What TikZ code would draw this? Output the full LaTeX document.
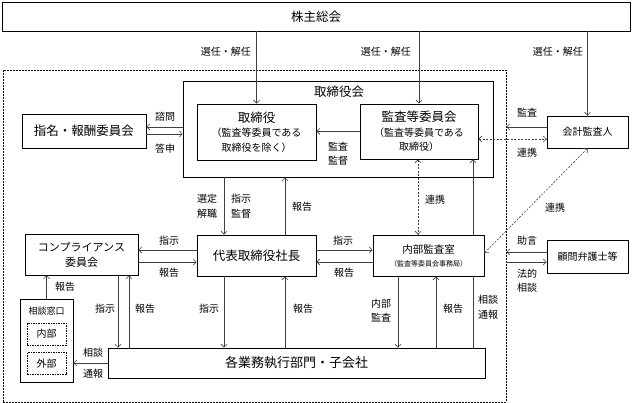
\documentclass[tikz,border=0pt]{standalone}
\usepackage{fontspec}
\newfontfamily\jpfont{Noto Sans CJK JP}
\usetikzlibrary{arrows.meta, positioning}
\newcommand\bigfs{\fontsize{12.5pt}{15pt}\selectfont}
\newcommand\midfs{\fontsize{10pt}{14.5pt}\selectfont}
\newcommand\tinyfs{\fontsize{7pt}{9pt}\selectfont}
\tikzset {
  bigbox/.style = {draw, line width=0.8pt, rectangle, fill=white},
  box/.style = {draw, line width=0.8pt, rectangle, fill=white, align=center, inner sep=2pt},
  smallbox/.style = {draw, line width=0.7pt, dash pattern=on 1.5pt off 1pt, rectangle, fill=white, inner sep=1pt},
  groupbox/.style = {draw, line width=0.7pt, dash pattern=on 2pt off 1pt, rectangle},
  line/.style = {->, line width=0.6pt, color=black!75, >={Straight Barb[length=3pt,width=6pt]}},
  dashedline/.style = {<->, line width=0.6pt, dash pattern=on 2pt off 1.5pt, color=black!75, >={Straight Barb[length=3pt,width=6pt]}},
  lbl/.style = {inner sep=0pt, align=center}
}

\begin{document}
\begin{tikzpicture}[x=1pt, y=-1pt, every node/.style={font=\jpfont\midfs}]
    \useasboundingbox (0,0) rectangle (632,403);

    \node[groupbox, minimum width=503pt, minimum height=332pt] (kaisha) at (254.5,236) {};

    \node[bigbox, minimum width=628pt, minimum height=29pt, font=\jpfont\bigfs] (soukai) at (316,16.5) {株主総会};
    \node[bigbox, minimum width=310pt, minimum height=96pt] (torikai) at (338,129) {};
    \node[lbl, font=\jpfont\bigfs] (torikailbl) at (339,92) {取締役会};
    \node[box, minimum width=119pt, minimum height=56pt] (tori) at (256.5,132) {{\bigfs 取締役}\\（監査等委員である\\取締役を除く）};
    \node[box, minimum width=118pt, minimum height=55pt] (kansa) at (419,131.5) {{\bigfs 監査等委員会}\\（監査等委員である\\取締役）};
    \node[box, minimum width=124pt, minimum height=34pt, font=\jpfont\bigfs] (shimei) at (84,131) {指名・報酬委員会};
    \node[box, minimum width=81pt, minimum height=32pt] (kaikei) at (587.5,132) {会計監査人};
    \node[box, minimum width=113pt, minimum height=41pt, font=\jpfont\fontsize{11pt}{15pt}\selectfont] (comp) at (81.5,254.5) {コンプライアンス\\委員会};
    \node[box, minimum width=119pt, minimum height=41pt, font=\jpfont\bigfs] (daihyo) at (256.5,255.5) {代表取締役社長};
    \node[box, minimum width=111pt, minimum height=41pt, font=\jpfont\fontsize{10.5pt}{13pt}\selectfont] (naibu) at (428.5,255.5) {内部監査室\\{\tinyfs （監査等委員会事務局）}};
    \node[box, minimum width=81pt, minimum height=33pt] (komon) at (587.5,256.5) {顧問弁護士等};
    \node[box, minimum width=377pt, minimum height=30pt, font=\jpfont\fontsize{13pt}{15pt}\selectfont] (gyomu) at (296.5,363) {各業務執行部門・子会社};

    % soudan madoguchi
    \node[box, minimum width=53pt, minimum height=83pt] (madoguchi) at (46.5,340.5) {};
    \node[lbl, font=\jpfont\fontsize{9pt}{11pt}\selectfont, below=8pt of madoguchi.north] (madotitle) {相談窓口};
    \node[smallbox, minimum width=39pt, minimum height=22pt, below=7.5pt of madotitle] (mnaibu) {内部};
    \node[smallbox, minimum width=39pt, minimum height=22pt, below=7pt of mnaibu] (mgaibu) {外部};

    % kabunushi soukai
    \draw[line] (soukai.south -| tori.north) -- (tori.north);
    \draw[line] (soukai.south -| kansa.north) -- (kansa.north);
    \draw[line] (soukai.south -| kaikei.north) -- (kaikei.north);
    \node[lbl, anchor=east] (sennin1) at (251,52) {選任・解任};
    \node[lbl, anchor=east] (sennin2) at (411,52) {選任・解任};
    \node[lbl, anchor=east] (sennin3) at (583,52) {選任・解任};

    % torishimariyakukai
    \draw[line] ([yshift=4pt]shimei.east -| torikai.west) -- ([yshift=4pt]shimei.east);
    \draw[line] ([yshift=-3pt]shimei.east) -- ([yshift=-3pt]shimei.east -| torikai.west);
    \node[lbl] (shimon) at (165,117) {諮問};
    \node[lbl] (toushin) at (165,149) {答申};
    \draw[line] (kansa.west) -- (kansa.west -| tori.east);
    \node[lbl] (kansakantoku) at (338,153.5) {監査\\監督};

    \draw[line] ([xshift=-32.5pt]daihyo.north |- torikai.south) -- ([xshift=-32.5pt]daihyo.north);
    \draw[line] ([xshift=28.5pt]daihyo.north) -- ([xshift=28.5pt]daihyo.north |- torikai.south);
    \node[lbl] (sentei) at (207,206) {選定\\解職};
    \node[lbl] (shijikantoku) at (241,206) {指示\\監督};
    \node[lbl] (houkoku1) at (302,207) {報告};

    % kaikei kansanin
    \draw[line] ([yshift=5pt]kaikei.west) -- ([yshift=5pt]kaikei.west -| kaisha.east);
    \draw[dashedline] ([yshift=-7pt]kaikei.west -| kansa.east) -- ([yshift=-7pt]kaikei.west);
    \node[lbl] (kansa2) at (527,113) {監査};
    \node[lbl] (renkei1) at (527,153) {連携};
    \draw[dashedline] ([xshift=-10.5pt]naibu.north |- kansa.south) -- ([xshift=-10.5pt]naibu.north);
    \node[lbl] (renkei2) at (435,200) {連携};
    \draw[line] ([xshift=44.5pt]naibu.north) -- ([xshift=44.5pt]naibu.north |- kansa.south);
    \draw[dashedline] (kaikei.south) -- ([yshift=2.5pt]naibu.east);
    \node[lbl] (renkei3) at (555,208) {連携};

    % daihyo torishimariyaku
    \draw[line] ([yshift=5.5pt]daihyo.west) -- ([yshift=5.5pt]daihyo.west -| comp.east);
    \draw[line] ([yshift=-6.5pt]daihyo.west -| comp.east) -- ([yshift=-6.5pt]daihyo.west);
    \node[lbl] (shiji1) at (169,241) {指示};
    \node[lbl] (houkoku2) at (169,273) {報告};
    \draw[line] ([yshift=5.5pt]daihyo.east) -- ([yshift=5.5pt]daihyo.east -| naibu.west);
    \draw[line] ([yshift=-6.5pt]daihyo.east -| naibu.west) -- ([yshift=-6.5pt]daihyo.east);
    \node[lbl] (shiji2) at (343,241) {指示};
    \node[lbl] (houkoku3) at (344,273) {報告};

    % komon bengoshi
    \draw[line] ([yshift=4.5pt]komon.west) -- ([yshift=4.5pt]komon.west -| kaisha.east);
    \draw[line] ([yshift=-5.5pt]komon.west -| kaisha.east) -- ([yshift=-5.5pt]komon.west);
    \node[lbl] (jogen) at (527,241) {助言};
    \node[lbl] (houteki) at (527,280.5) {法的\\相談};

    % gyomu shikko bumon
    \draw[line] (madoguchi.north) -- (madoguchi.north |- comp.south);
    \node[lbl] (houkoku4) at (65,287) {報告};
    \draw[line] ([xshift=36.5pt]comp.south) -- ([xshift=36.5pt]comp.south |- gyomu.north);
    \draw[line] ([xshift=47.5pt]comp.south |- gyomu.north) -- ([xshift=47.5pt]comp.south);
    \node[lbl] (shiji3) at (105,309) {指示};
    \node[lbl] (houkoku5) at (145,309) {報告};
    \draw[line] ([xshift=-32.5pt]daihyo.south) -- ([xshift=-32.5pt]daihyo.south |- gyomu.north);
    \draw[line] ([xshift=28.5pt]daihyo.south |- gyomu.north) -- ([xshift=28.5pt]daihyo.south);
    \node[lbl] (shiji4) at (209,309) {指示};
    \node[lbl] (houkoku6) at (303,309) {報告};
    \draw[line] ([xshift=-30.5pt]naibu.south) -- ([xshift=-30.5pt]naibu.south |- gyomu.north);
    \draw[line] ([xshift=7.5pt]naibu.south |- gyomu.north) -- ([xshift=7.5pt]naibu.south);
    \draw[line, -] ([xshift=44.5pt]naibu.south |- gyomu.north) -- ([xshift=44.5pt]naibu.south);
    \node[lbl] (naibukansa) at (381,310.5) {内部\\監査};
    \node[lbl] (houkoku7) at (453,309) {報告};
    \node[lbl] (soudantsuho1) at (488,307) {相談\\通報};
    \draw[line] (gyomu.west) -- (gyomu.west -| madoguchi.east);
    \node[lbl] (soudan2) at (93,353) {相談};
    \node[lbl] (tsuho2) at (93,374) {通報};

  \end{tikzpicture}
\end{document}
